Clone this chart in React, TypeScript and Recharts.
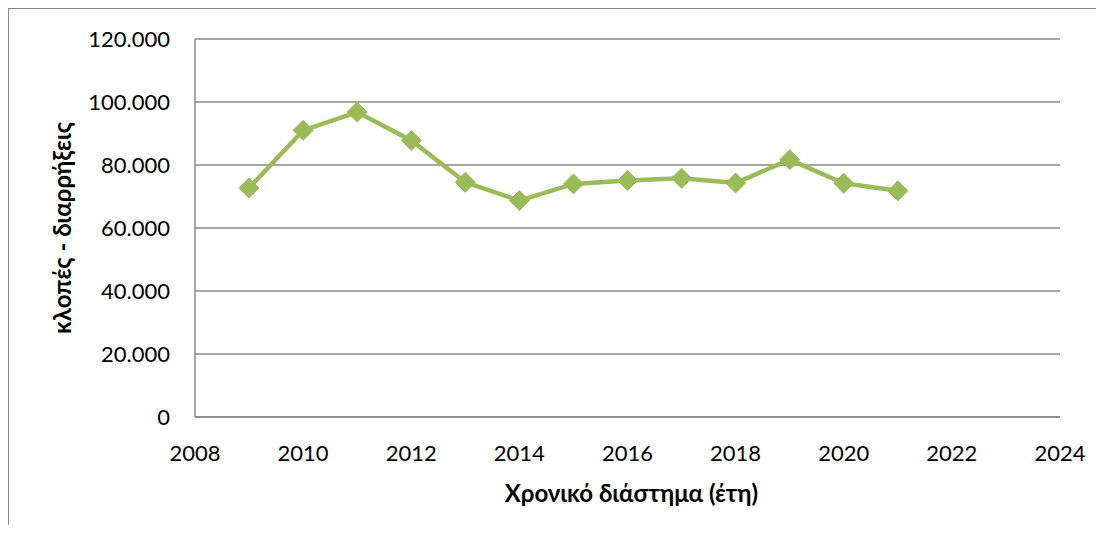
import { LineChart, Line, XAxis, YAxis, CartesianGrid } from "recharts";

const years = [2009, 2010, 2011, 2012, 2013, 2014, 2015, 2016, 2017, 2018, 2019, 2020, 2021];
const thefts = [72700, 91000, 96800, 87800, 74500, 68700, 74000, 75100, 75800, 74300, 81700, 74200, 71800];

const yearTicks = [2008, 2010, 2012, 2014, 2016, 2018, 2020, 2022, 2024];
const valueTicks = [0, 20000, 40000, 60000, 80000, 100000, 120000];

const xTitle = "Χρονικό διάστημα (έτη)";
const yTitle = "κλοπές - διαρρήξεις";

const green = "#9BBB59";
const gridGray = "#898989";
const font = "Lato, 'Open Sans', sans-serif";

const chartData = years.map((year, i) => ({ year, value: thefts[i] }));

// thousands written greek style: 120.000
const formatValue = (v: number) => (v === 0 ? "0" : `${v / 1000}.000`);

function Diamond(props: any) {
  const { cx, cy, index } = props;
  if (cx == null || cy == null) return null;
  const r = 10;
  return (
    <polygon
      key={`d-${index}`}
      points={`${cx},${cy - r} ${cx + r},${cy} ${cx},${cy + r} ${cx - r},${cy}`}
      fill={green}
      stroke={green}
      strokeWidth={1}
    />
  );
}

export default function App() {
  const tickStyle = { fontSize: 22, fill: "#000", fontFamily: font };
  const titleStyle = { fontSize: 24, fill: "#000", fontFamily: font, fontWeight: 700 };

  return (
    <div
      style={{
        width: 1087,
        height: 516,
        borderLeft: "1px solid #878787",
        borderTop: "1px solid #878787",
        background: "#fff",
        fontFamily: font,
      }}
    >
      <LineChart
        width={1087}
        height={516}
        data={chartData}
        margin={{ top: 30, right: 36, bottom: 0, left: 0 }}
      >
        <CartesianGrid vertical={false} stroke={gridGray} strokeWidth={1.5} />
        <XAxis
          dataKey="year"
          type="number"
          domain={[2008, 2024]}
          ticks={yearTicks}
          height={108}
          tickLine={false}
          tickSize={0}
          tickMargin={28}
          axisLine={{ stroke: gridGray, strokeWidth: 1.5 }}
          tick={tickStyle}
          label={{ value: xTitle, position: "center", dy: 22, dx: 4, style: titleStyle }}
        />
        <YAxis
          type="number"
          domain={[0, 120000]}
          ticks={valueTicks}
          width={186}
          tickLine={false}
          tickSize={0}
          tickMargin={25}
          axisLine={{ stroke: gridGray, strokeWidth: 1.5 }}
          tick={tickStyle}
          tickFormatter={formatValue}
          label={{ value: yTitle, angle: -90, position: "center", dx: -40, style: titleStyle }}
        />
        <Line
          type="linear"
          dataKey="value"
          stroke={green}
          strokeWidth={4.5}
          dot={<Diamond />}
          activeDot={false}
          isAnimationActive={false}
        />
      </LineChart>
    </div>
  );
}
